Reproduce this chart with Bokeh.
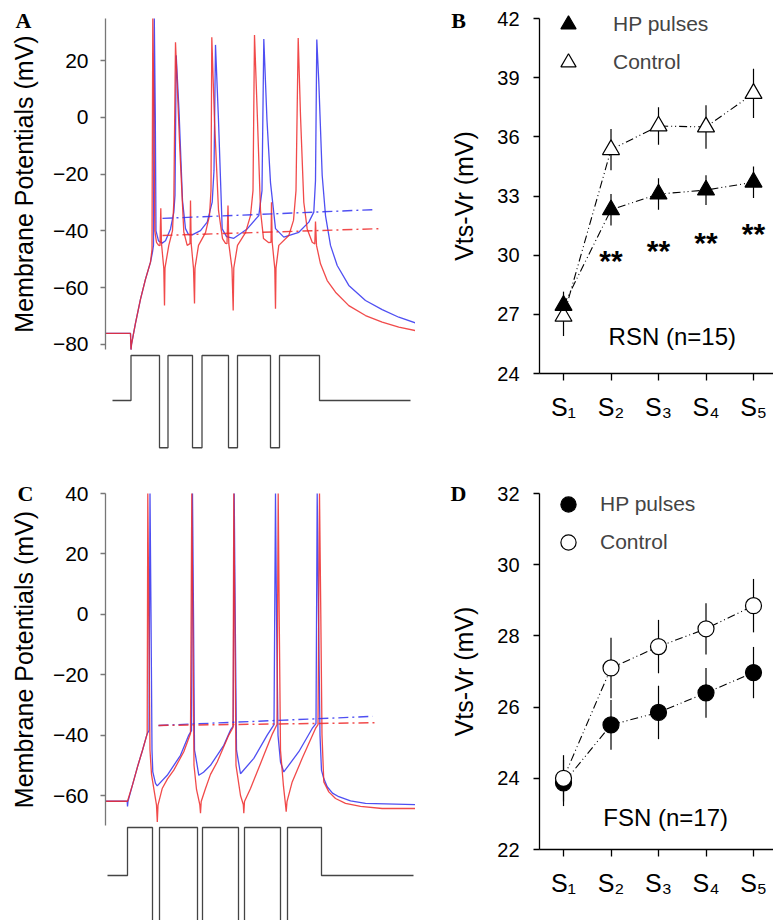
from bokeh.plotting import figure
from bokeh.layouts import column, row
from bokeh.models import Range1d, FixedTicker, Legend, LegendItem
from bokeh.embed import file_html
from bokeh.resources import INLINE
from bokeh.core.properties import value

# ---------------- DATA ----------------
# Panel A (RSN): membrane potential traces, time in ms, potential in mV
a_ctrl_t = [0, 25, 25.5, 26, 30, 35, 40, 45, 47, 48, 48.8, 49.8, 50.5, 53, 56.7, 60, 65, 68.3, 69.5,
            70.7, 73.5, 77, 80, 83, 86.7, 95, 101.7, 106.7, 108.5, 110, 113, 116.7, 121, 128.3,
            141.7, 153.3, 156.5, 158.3, 161.5, 165, 170, 178.3, 193.3, 203.3, 208.3, 210, 211.3,
            213.3, 216.7, 220, 225, 231.7, 243.3, 260, 276.7, 293.3, 310]
a_ctrl_v = [-76.1, -76.1, -81.8, -80, -72.5, -64, -57, -51, -47.5, -45, 34.8, 0, -40, -43.5, -44.3,
            -43.5, -39.3, -33.5, -27.5, 21.8, 2.4, -29.3, -39.2, -41.3, -41.4, -39.9, -36.9, -29.9,
            -18.7, 25.5, -1.1, -39.3, -42, -42.6, -39.3, -34.6, -25.8, 27.6, -1.1, -23, -39.2,
            -42.2, -40.5, -36.9, -33.4, -22.3, 27.4, 12.4, -20.5, -34.6, -45.1, -52.2, -59.2,
            -64.5, -67.7, -70.4, -72.4]
a_hp_t = [0, 25, 25.5, 26, 30, 35, 40, 45, 46.5, 47.3, 48.3, 49.3, 51, 53, 54.5, 55.3, 56, 58.3, 59,
          59.5, 63.3, 67, 68.3, 70, 74.3, 78.3, 81.7, 84.5, 85, 85.7, 88, 89, 89.5, 93, 100, 104,
          105.5, 106.3, 109, 113, 117, 120, 121.5, 122.5, 123.3, 126.5, 127.7, 128.3, 132, 140,
          145, 147.5, 149, 152, 155, 158, 163, 165.5, 166, 166.7, 169.3, 170, 170.5, 173.3, 183.3,
          188, 190.5, 192.7, 195, 198.3, 201.7, 206.7, 209.3, 210, 211, 215, 221.7, 230, 243.3,
          260, 276.7, 293.3, 310]
a_hp_v = [-76.1, -76.1, -81.8, -80, -72.5, -64, -57, -51, -46.5, 34.8, 5, -40, -44, -45, -45.2, -32,
          -44.5, -53.2, -66.3, -53, -45.1, -39.9, -29.9, 26.4, -11.1, -40.4, -45.1, -44.5, -29.3,
          -44.5, -53.2, -65.6, -53, -45.1, -40.6, -34.6, -25.8, 28.2, -1.1, -32.8, -42.7, -44.4,
          -44.5, -31.1, -44.5, -53.2, -68, -53, -45.1, -40.6, -34.6, -25.8, 29.0, -1.1, -32.8,
          -42.7, -44.1, -44, -29.9, -44, -53.3, -67.4, -53, -45.1, -41.6, -36.3, -25.8, 27.9, 0.6,
          -29.9, -39.3, -44, -44.6, -36.7, -45.1, -51.6, -57.5, -61.6, -66.3, -69.8, -72.1, -73.9,
          -75.1]
a_ctrl_thr_t = [57, 270]
a_ctrl_thr_v = [-35.6, -32.5]
a_hp_thr_t = [57, 275]
a_hp_thr_v = [-41.6, -39.2]
a_stim_t = [7, 25.5, 54, 62.5, 87, 96.5, 123, 132, 165, 174, 214, 305]
a_stim_i = [0, 1, -1.05, 1, -1.05, 1, -1.05, 1, -1.05, 1, 0, 0]

# Panel C (FSN)
c_ctrl_t = [0, 21.7, 22, 22.5, 27, 32, 37, 41.7, 43.5, 44.5, 45.5, 46.5, 47.3, 50, 51.7, 61.7, 75,
            83.3, 86, 87, 88, 89, 90, 93.3, 98, 105, 118.3, 125, 127.7, 128.7, 129.7, 131, 135,
            148.3, 161.7, 168.5, 170, 171, 172.5, 175, 178.3, 193.3, 206.7, 210.5, 211.7, 213,
            214.5, 216, 218.3, 221.7, 227, 233.3, 245, 260, 310]
c_ctrl_v = [-61.9, -61.9, -63.6, -61.9, -56.5, -50.5, -45, -39.5, -38.5, 45, 0, -45, -52.2, -56,
            -56.8, -53.3, -46.7, -40, -38.5, 45, 0, -45, -46.7, -53.3, -52.3, -50, -43.4, -38.3,
            -37, 45, 0, -45, -52.8, -47.7, -40, -36.5, 45, 0, -40, -48.9, -52.2, -45.5, -37.8,
            -36.2, 45, 0, -40, -51.7, -54.4, -57.1, -59.2, -60.4, -61.8, -62.6, -63]
c_hp_t = [0, 22, 27, 32, 37, 41.7, 42.3, 43.3, 44.5, 46, 51, 51.8, 52.5, 56.7, 62, 68.3, 78.3, 85,
          86.3, 87.3, 88.5, 91, 94.3, 95, 95.7, 100, 105, 111.7, 123.3, 127.5, 128.3, 129.3, 130.5,
          135, 137.8, 138.3, 139, 145, 158.3, 167, 171.5, 172.7, 173.7, 175, 178, 180, 180.7,
          181.5, 186.7, 196.7, 210, 212.5, 214, 215.3, 216.5, 218.3, 223.3, 230, 240, 255, 276.7,
          310]
c_hp_v = [-61.9, -61.9, -56.5, -50.5, -45, -39.5, 45, 0, -45, -53, -63.2, -68.8, -63.2, -57.7,
          -54.5, -51.6, -45.5, -39.5, 45, 0, -50, -58, -63, -65.9, -62, -57.7, -53, -48.9, -40,
          -37.5, 45, 0, -50, -60, -63, -65.9, -62, -57.7, -46.7, -39.5, -36.5, 45, 0, -45, -57,
          -63, -65.4, -62, -55.5, -47.7, -37.8, -36.5, 45, 0, -40, -55.5, -58.8, -61, -62.6,
          -63.6, -64.3, -64.3]
c_ctrl_thr_t = [53, 267]
c_ctrl_thr_v = [-36.8, -33.8]
c_hp_thr_t = [53, 270]
c_hp_thr_v = [-36.8, -35.9]
c_stim_t = [2, 22, 47, 54, 92, 97, 133, 139, 175, 182, 216, 308]
c_stim_i = [0, 1, -1.0, 1, -1.0, 1, -1.0, 1, -1.0, 1, 0, 0]

# Panels B and D: Vts-Vr per spike (mean and SEM)
stim_idx = [1, 2, 3, 4, 5]
stim_labels = ["S\u2081", "S\u2082", "S\u2083", "S\u2084", "S\u2085"]

b_hp_mean = [27.45, 32.3, 33.1, 33.3, 33.7]
b_hp_err = [0.7, 0.8, 0.8, 0.75, 0.8]
b_ctrl_mean = [26.9, 35.35, 36.55, 36.5, 38.2]
b_ctrl_err = [1.0, 1.05, 0.95, 1.1, 1.25]
b_sig_idx = [2, 3, 4, 5]
b_sig_y = [29.9, 30.4, 30.8, 31.25]
b_sig_text = ["**", "**", "**", "**"]

d_hp_mean = [23.87, 25.5, 25.85, 26.4, 26.97]
d_hp_err = [0.65, 0.7, 0.75, 0.7, 0.72]
d_ctrl_mean = [24.0, 27.1, 27.7, 28.2, 28.85]
d_ctrl_err = [0.65, 0.85, 0.75, 0.72, 0.75]

# ---------------- STYLE ----------------
FONT = "Liberation Sans"
RED = "#ee2a2a"
BLUE = "#3030f0"
DASHDOT = "10 4 2 4"
DDOT = "8 3 1 3 1 3"


def style_axis(ax, color, size, tick_out, standoff, label_standoff):
    ax.axis_line_color = color
    ax.axis_line_width = 1.3
    ax.major_tick_line_color = color
    ax.major_tick_line_width = 1.3
    ax.major_tick_out = tick_out
    ax.major_tick_in = 0
    ax.minor_tick_line_color = None
    ax.major_label_text_font = FONT
    ax.major_label_text_font_size = size
    ax.major_label_text_color = "black"
    ax.major_label_standoff = standoff
    ax.axis_label_text_font = FONT
    ax.axis_label_text_font_style = "normal"
    ax.axis_label_text_font_size = "25px"
    ax.axis_label_text_color = "black"
    ax.axis_label_standoff = label_standoff


def make_fig(width, xr, yr, **kw):
    p = figure(width=width, height=460, x_range=Range1d(*xr), y_range=Range1d(*yr),
               output_backend="svg", toolbar_location=None,
               min_border_left=0, min_border_right=0, min_border_top=0, min_border_bottom=0, **kw)
    p.grid.visible = False
    p.outline_line_color = None
    p.background_fill_color = "white"
    p.border_fill_color = "white"
    return p


def panel_letter(p, x, y, text):
    p.text([x], [y], text=[text], text_font=value("Liberation Serif"), text_font_style="bold",
           text_font_size="22px", text_align="center", text_baseline="middle")


def trace_panel(yr, stim_r, ticks, bounds, letter_xy, ctrl_t, ctrl_v, hp_t, hp_v,
                cthr_t, cthr_v, hthr_t, hthr_v, st_t, st_i, letter, clip_top):
    p = make_fig(415, (-105, 310), yr, x_axis_location=None)
    p.extra_y_ranges = {"stim": Range1d(*stim_r)}
    cv = [min(v, clip_top) for v in ctrl_v]
    hv = [min(v, clip_top) for v in hp_v]
    p.line(ctrl_t, cv, line_color=BLUE, line_width=1.3, line_alpha=0.85)
    p.line(hp_t, hv, line_color=RED, line_width=1.3, line_alpha=0.85)
    p.line(cthr_t, cthr_v, line_color=BLUE, line_width=1.4, line_dash=DASHDOT, line_alpha=0.85)
    p.line(hthr_t, hthr_v, line_color=RED, line_width=1.4, line_dash=DASHDOT, line_alpha=0.85)
    p.step(st_t, st_i, mode="after", y_range_name="stim", line_color="#444444", line_width=1.3)
    ax = p.yaxis[0]
    style_axis(ax, "#777777", "21px", 5, 12, 12)
    ax.axis_label = "Membrane Potentials (mV)"
    ax.ticker = FixedTicker(ticks=ticks)
    ax.bounds = bounds
    ax.fixed_location = 0
    panel_letter(p, letter_xy[0], letter_xy[1], letter)
    return p


pA = trace_panel((-120.85, 41.13), (-1.333, 8.889), [-80, -60, -40, -20, 0, 20],
                 (-81.8, 34.8), (-82, 34.08), a_ctrl_t, a_ctrl_v, a_hp_t, a_hp_v,
                 a_ctrl_thr_t, a_ctrl_thr_v, a_hp_thr_t, a_hp_thr_v, a_stim_t, a_stim_i, "A", 34.8)
pC = trace_panel((-101.39, 50.93), (-0.9375, 8.646), [-60, -40, -20, 0, 20, 40],
                 (-70, 40), (-80, 40), c_ctrl_t, c_ctrl_v, c_hp_t, c_hp_v,
                 c_ctrl_thr_t, c_ctrl_thr_v, c_hp_thr_t, c_hp_thr_v, c_stim_t, c_stim_i, "C", 40)


def summary_panel(yr, ybounds, yticks, marker, hp_mean, hp_err, ctrl_mean, ctrl_err, ctrl_on_top,
                  leg_vy, leg_standoff, letter, letter_y, note, note_xy, msize):
    p = make_fig(358, (-2.116, 5.421), yr)
    hp_lo = [m - e for m, e in zip(hp_mean, hp_err)]
    hp_hi = [m + e for m, e in zip(hp_mean, hp_err)]
    c_lo = [m - e for m, e in zip(ctrl_mean, ctrl_err)]
    c_hi = [m + e for m, e in zip(ctrl_mean, ctrl_err)]
    p.segment(stim_idx, hp_lo, stim_idx, hp_hi, line_color="black", line_width=1.2)
    p.segment(stim_idx, c_lo, stim_idx, c_hi, line_color="black", line_width=1.2)
    p.line(stim_idx, hp_mean, line_color="black", line_width=1.1, line_dash=DDOT)
    p.line(stim_idx, ctrl_mean, line_color="black", line_width=1.1, line_dash=DDOT)

    def hp():
        return p.scatter(stim_idx, hp_mean, marker=marker, size=msize, fill_color="black",
                         line_color="black", line_width=1.2)

    def ctrl():
        return p.scatter(stim_idx, ctrl_mean, marker=marker, size=msize, fill_color="white",
                         line_color="black", line_width=1.2)

    if ctrl_on_top:
        r_hp = hp()
        r_c = ctrl()
    else:
        r_c = ctrl()
        r_hp = hp()
    leg = Legend(items=[LegendItem(label="HP pulses", renderers=[r_hp]),
                        LegendItem(label="Control", renderers=[r_c])],
                 location=(124, leg_vy), orientation="vertical", glyph_width=58, glyph_height=38,
                 label_height=38, spacing=-9, padding=0, margin=0, label_standoff=leg_standoff,
                 border_line_color=None, background_fill_alpha=0,
                 label_text_font=FONT, label_text_font_size="21px")
    p.add_layout(leg)
    p.text([note_xy[0]], [note_xy[1]], text=[note], text_font=value(FONT),
           text_font_size="24px", text_align="center", text_baseline="middle")
    ya = p.yaxis[0]
    style_axis(ya, "black", "20px", 6, 14, 16)
    ya.axis_label = "Vts-Vr (mV)"
    ya.ticker = FixedTicker(ticks=yticks)
    ya.bounds = ybounds
    ya.fixed_location = 0.495
    xa = p.xaxis[0]
    style_axis(xa, "black", "25px", 7, 12, 0)
    xa.ticker = FixedTicker(ticks=stim_idx)
    xa.major_label_overrides = {i: s for i, s in zip(stim_idx, stim_labels)}
    xa.bounds = (0.495, 5.421)
    xa.fixed_location = ybounds[0]
    panel_letter(p, -1.211, letter_y, letter)
    return p


pB = summary_panel((19.589, 42.913), (24, 42), [24, 27, 30, 33, 36, 39, 42], "triangle",
                   b_hp_mean, b_hp_err, b_ctrl_mean, b_ctrl_err, False, 379, 16, "B", 41.9,
                   "RSN (n=15)", (3.29, 25.88), 17)
pB.text(b_sig_idx, b_sig_y, text=b_sig_text, text_font=value(FONT), text_font_style="bold",
        text_font_size="30px", text_align="center", text_baseline="middle", y_offset=3)

pD = summary_panel((20.006, 32.927), (22, 32), [22, 24, 26, 28, 30, 32], "circle",
                   d_hp_mean, d_hp_err, d_ctrl_mean, d_ctrl_err, True, 359, 3, "D", 32,
                   "FSN (n=17)", (3.15, 22.9), 16)

layout = column(row(pA, pB), row(pC, pD))
open("out.html", "w").write(file_html(layout, INLINE))
